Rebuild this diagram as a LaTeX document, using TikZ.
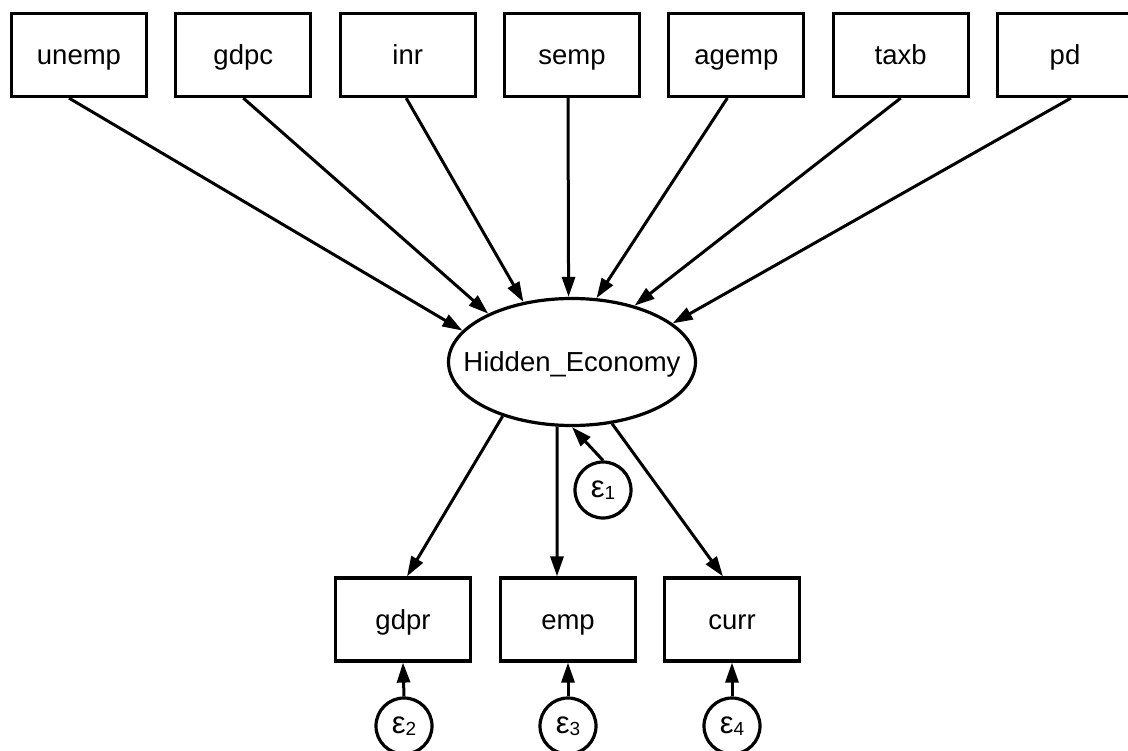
\documentclass[tikz,border=0pt]{standalone}
\usepackage{fontspec}
\setmainfont{Liberation Sans}
\usetikzlibrary{arrows.meta,shapes.geometric}
\newcommand{\epsl}[1]{{\fontsize{31}{34}\selectfont ε}\raisebox{-1.5pt}{\fontsize{19}{20}\selectfont #1}}
\begin{document}
\begin{tikzpicture}[x=1pt,y=-1pt,
  every node/.style={font=\fontsize{27.5}{32}\selectfont},
  obs/.style={draw,line width=3.2pt,rectangle,minimum width=135pt,minimum height=83pt,inner sep=0pt,text height=24pt,text depth=4pt},
  lat/.style={draw,line width=3.2pt,ellipse,minimum width=247pt,minimum height=127pt,inner sep=0pt},
  err/.style={draw,line width=3.2pt,circle,minimum size=56pt,inner sep=0pt},
  conn/.style={line width=3pt,-{Triangle[length=20pt,width=13pt]}}]
\useasboundingbox (0,0) rectangle (1128,751);
\fill[white] (0,0) rectangle (1128,751);
% top boxes
\node[obs] (unemp) at (79,55) {unemp};
\node[obs] (gdpc) at (243.3,55) {gdpc};
\node[obs] (inr) at (407.7,55) {inr};
\node[obs] (semp) at (572,55) {semp};
\node[obs] (agemp) at (736.3,55) {agemp};
\node[obs] (taxb) at (900.7,55) {taxb};
\node[obs] (pd) at (1065,55) {pd};
% latent
\node[lat,label={[text height=24pt,text depth=4pt,inner sep=0pt]center:Hidden\_Economy}] (E) at (572,362) {};
% bottom boxes
\node[obs] (gdpr) at (403,619.5) {gdpr};
\node[obs] (emp) at (568,619.5) {emp};
\node[obs] (curr) at (732,619.5) {curr};
% errors
\node[err] (e1) at (603,490) {\epsl{1}};
\node[err] (e2) at (404,726) {\epsl{2}};
\node[err] (e3) at (568,726) {\epsl{3}};
\node[err] (e4) at (732,726) {\epsl{4}};
% connectors
\draw[conn] ([xshift=-10pt]unemp.south) -- (E.164.3);
\draw[conn] (gdpc.south) -- (E.150.6);
\draw[conn] ([xshift=-1.5pt]inr.south) -- (E.129.8);
\draw[conn] ([xshift=-4pt]semp.south) -- (E.93.5);
\draw[conn] ([xshift=-9pt]agemp.south) -- (E.69.7);
\draw[conn] (taxb.south) -- (E.42.2);
\draw[conn] ([xshift=6pt]pd.south) -- (E.21.2);
\draw[conn] (E.218.6) -- ([xshift=4pt]gdpr.north);
\draw[conn] (E.257) -- ([xshift=-11pt]emp.north);
\draw[conn] (E.303) -- ([xshift=-9pt]curr.north);
\draw[conn] (e1.north) -- (E.270);
\draw[conn] (e2.north) -- (gdpr.south);
\draw[conn] (e3.north) -- (emp.south);
\draw[conn] (e4.north) -- (curr.south);
\end{tikzpicture}
\end{document}
